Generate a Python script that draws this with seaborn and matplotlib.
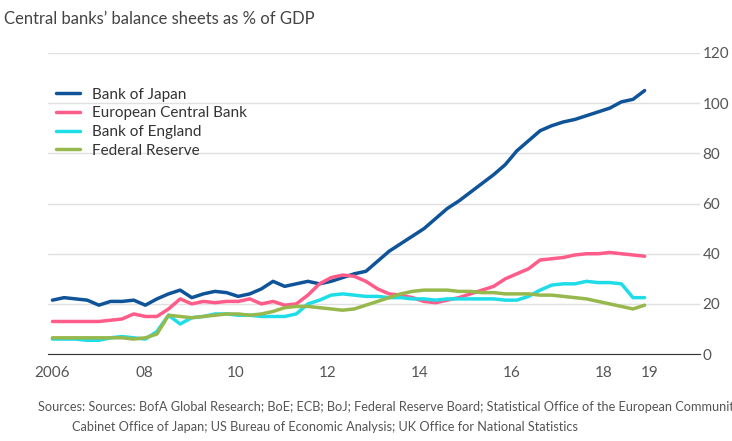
import numpy as np
import pandas as pd
import matplotlib
matplotlib.use("Agg")
import matplotlib.pyplot as plt
import seaborn as sns

boj = [21.5,22.5,22,21.5, 19.5,21,21,21.5, 19.5,22,24,25.5, 22.5,24,25,24.5,
       23,24,26,29, 27,28,29,28, 29,30.5,32,33, 37,41,44,47,
       50,54,58,61, 64.5,68,71.5,75.5, 81,85,89,91, 92.5,93.5,95,96.5, 98,100.5,101.5,105]
ecb = [13,13,13,13, 13,13.5,14,16, 15,15,18,22, 20,21,20.5,21,
       21,22,20,21, 19.5,20,23.5,28, 30.5,31.5,31,29, 26,24,23.5,22.5,
       21,20.5,21.5,22.5, 24,25.5,27,30, 32,34,37.5,38, 38.5,39.5,40,40, 40.5,40,39.5,39]
boe = [6,6,6,5.5, 5.5,6.5,7,6.5, 6,9,15.5,12, 14.5,15,16,16,
       15.5,15.5,15,15, 15,16,20,21.5, 23.5,24,23.5,23, 23,22.5,22.5,22,
       22,21.5,22,22, 22,22,22,21.5, 21.5,23,25.5,27.5, 28,28,29,28.5, 28.5,28,22.5,22.5]
fed = [6.5,6.5,6.5,6.5, 6.5,6.5,6.5,6, 6.5,8,15.5,15, 14.5,15,15.5,16,
       16,15.5,16,17, 18.5,19,19,18.5, 18,17.5,18,19.5, 21,22.5,24,25,
       25.5,25.5,25.5,25, 25,24.5,24.5,24, 24,24,23.5,23.5, 23,22.5,22,21, 20,19,18,19.5]
years = 2006 + 0.2529 * np.arange(len(boj))
names = ["Bank of Japan", "European Central Bank", "Bank of England", "Federal Reserve"]
colors = ["#0f5499", "#ff5c8a", "#1fdde8", "#96b84c"]
xticks = [2006, 2008, 2010, 2012, 2014, 2016, 2018, 2019]
xlabels = ["2006", "08", "10", "12", "14", "16", "18", "19"]
yticks = [0, 20, 40, 60, 80, 100, 120]

df = pd.DataFrame({"year": np.tile(years, 4),
                   "value": boj + ecb + boe + fed,
                   "bank": np.repeat(names, len(boj))})

sns.set_style("white")
plt.rcParams['font.family'] = ['Lato', 'DejaVu Sans']
fig = plt.figure(figsize=(7.32, 4.41), dpi=100)
ax = fig.add_axes([0.066, 0.197, 0.89, 0.683])
sns.lineplot(data=df, x="year", y="value", hue="bank", hue_order=names,
             palette=colors, linewidth=2.5, ax=ax)
ax.set_xlim(2005.91, 2020.1)
ax.set_ylim(0, 120)
ax.set_yticks(yticks)
ax.yaxis.tick_right()
ax.tick_params(axis='y', length=0, labelsize=11, colors="#555555", pad=2)
ax.set_xticks(xticks)
ax.set_xticklabels(xlabels)
ax.tick_params(axis='x', length=5, width=1, color="#333333", labelsize=11, colors="#555555")
ax.grid(axis='y', color="#e0e0e0", linewidth=1)
for s in ["top", "left", "right"]:
    ax.spines[s].set_visible(False)
ax.spines["bottom"].set_color("#333333")
ax.set_xlabel("")
ax.set_ylabel("")
leg = ax.legend(loc="upper left", bbox_to_anchor=(-0.01, 0.93), frameon=False,
                fontsize=11, handlelength=1.6, labelspacing=0.3)
for t in leg.get_texts():
    t.set_color("#333333")
fig.text(0.005, 0.975, "Central banks\u2019 balance sheets as % of GDP", fontsize=12,
         color="#444444", va="top")
fig.text(0.052, 0.068, "Sources: Sources: BofA Global Research; BoE; ECB; BoJ; Federal Reserve Board; Statistical Office of the European Communities;",
         fontsize=9.2, color="#555555")
fig.text(0.098, 0.022, "Cabinet Office of Japan; US Bureau of Economic Analysis; UK Office for National Statistics",
         fontsize=9.2, color="#555555")
fig.savefig("out.png", dpi=100)
